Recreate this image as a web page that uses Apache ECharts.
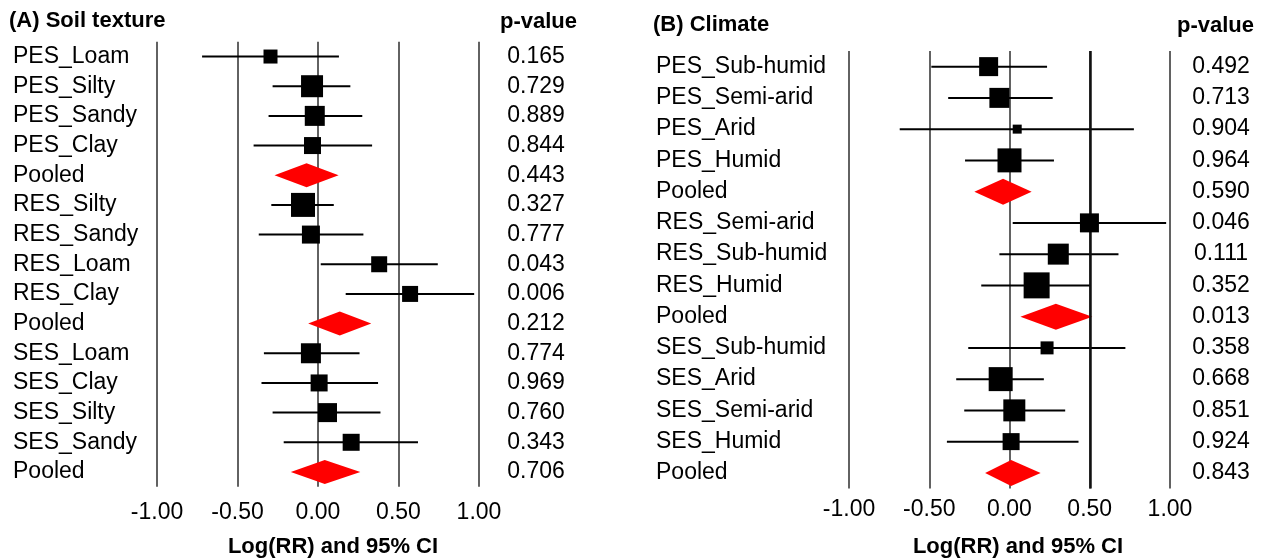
<!DOCTYPE html>
<html>
<head>
<meta charset="utf-8">
<script src="https://cdn.jsdelivr.net/npm/echarts@6/dist/echarts.min.js"></script>
<style>
html,body{margin:0;padding:0;background:#fff;}
#chart{width:1265px;height:558px;}
</style>
</head>
<body>
<div id="chart"></div>
<script>
// ---------- Panel A: Soil texture ----------
const categoriesA = ['PES_Loam','PES_Silty','PES_Sandy','PES_Clay','Pooled','RES_Silty','RES_Sandy','RES_Loam','RES_Clay','Pooled','SES_Loam','SES_Clay','SES_Silty','SES_Sandy','Pooled'];
const estimateA = [-0.295,-0.037,-0.020,-0.034,-0.071,-0.093,-0.044,0.380,0.572,0.135,-0.044,0.007,0.059,0.206,0.042];
const lowerA    = [-0.720,-0.282,-0.307,-0.400,-0.270,-0.290,-0.368,0.017,0.172,-0.061,-0.336,-0.351,-0.282,-0.213,-0.169];
const upperA    = [0.130,0.201,0.275,0.336,0.128,0.098,0.282,0.744,0.970,0.331,0.258,0.373,0.388,0.621,0.263];
const weightA   = [14,22,20,17,null,24,18,16,16,null,20,17,19,17,null];
const pValuesA  = ['0.165','0.729','0.889','0.844','0.443','0.327','0.777','0.043','0.006','0.212','0.774','0.969','0.760','0.343','0.706'];

// ---------- Panel B: Climate ----------
const categoriesB = ['PES_Sub-humid','PES_Semi-arid','PES_Arid','PES_Humid','Pooled','RES_Semi-arid','RES_Sub-humid','RES_Humid','Pooled','SES_Sub-humid','SES_Arid','SES_Semi-arid','SES_Humid','Pooled'];
const estimateB = [-0.130,-0.063,0.048,0.000,-0.040,0.498,0.304,0.169,0.289,0.234,-0.055,0.030,0.010,0.010];
const lowerB    = [-0.487,-0.382,-0.684,-0.277,-0.219,0.020,-0.063,-0.176,0.068,-0.257,-0.332,-0.282,-0.390,-0.152];
const upperB    = [0.234,0.269,0.775,0.277,0.138,0.976,0.679,0.503,0.516,0.722,0.214,0.347,0.430,0.194];
const weightB   = [19,20,9,24,null,19,21,26,null,13,24,22,17,null];
const pValuesB  = ['0.492','0.713','0.904','0.964','0.590','0.046','0.111','0.352','0.013','0.358','0.668','0.851','0.924','0.843'];

const xTicks = { min: -1, max: 1, interval: 0.5 };
const FONT = "'Liberation Sans', Arial, sans-serif";
const FS = 23;

function intervalSeries(idx, lo, hi, est, w, halfH) {
  const data = lo.map((l, i) => [l, hi[i], est[i], i, w[i] == null ? 1 : 0]);
  return {
    type: 'custom', xAxisIndex: idx, yAxisIndex: idx * 2, z: 3,
    encode: { x: [0, 1, 2], y: 3 },
    data: data,
    renderItem: function (params, api) {
      const i = api.value(3);
      const p1 = api.coord([api.value(0), i]);
      const p2 = api.coord([api.value(1), i]);
      const pe = api.coord([api.value(2), i]);
      if (api.value(4)) {
        return {
          type: 'polygon',
          shape: { points: [[p1[0], pe[1]], [pe[0], pe[1] - halfH], [p2[0], pe[1]], [pe[0], pe[1] + halfH]] },
          style: { fill: '#ff0000' }
        };
      }
      return {
        type: 'line',
        shape: { x1: p1[0], y1: p1[1], x2: p2[0], y2: p2[1] },
        style: { stroke: '#000', lineWidth: 2 }
      };
    }
  };
}

function squareSeries(idx, est, w) {
  const data = [];
  est.forEach((e, i) => { if (w[i] != null) data.push([e, i, w[i]]); });
  return {
    type: 'scatter', xAxisIndex: idx, yAxisIndex: idx * 2, z: 5,
    symbol: 'rect',
    symbolSize: d => d[2],
    itemStyle: { color: '#000', opacity: 1 },
    data: data
  };
}

function xAxisDef(idx, margin, nameGap, namePadLeft) {
  return {
    type: 'value', gridIndex: idx,
    min: xTicks.min, max: xTicks.max, interval: xTicks.interval,
    axisLine: { show: false }, axisTick: { show: false },
    splitLine: { show: true, lineStyle: { color: '#2e2e2e', width: 1.5 } },
    axisLabel: { formatter: v => v.toFixed(2), fontSize: FS, color: '#000', fontFamily: FONT, margin: margin },
    name: 'Log(RR) and 95% CI', nameLocation: 'middle', nameGap: nameGap,
    nameTextStyle: { fontSize: 22, fontWeight: 'bold', color: '#000', fontFamily: FONT, padding: [0, 0, 0, namePadLeft] }
  };
}

function yAxesDef(idx, cats, pvals, leftMargin, pMargin, labelPad, pPad) {
  return [
    {
      type: 'category', gridIndex: idx, inverse: true, data: cats,
      axisLine: { show: false }, axisTick: { show: false }, splitLine: { show: false },
      axisLabel: { interval: 0, hideOverlap: false, align: 'left', margin: leftMargin, fontSize: FS, color: '#000', fontFamily: FONT, padding: labelPad }
    },
    {
      type: 'category', gridIndex: idx, inverse: true, position: 'right', data: pvals,
      axisLine: { show: false }, axisTick: { show: false }, splitLine: { show: false },
      axisLabel: { interval: 0, hideOverlap: false, align: 'center', margin: pMargin, fontSize: FS, color: '#000', fontFamily: FONT, padding: pPad }
    }
  ];
}

const chart = echarts.init(document.getElementById('chart'), null, { renderer: 'canvas' });
const titleStyle = { fontSize: 22, fontWeight: 'bold', color: '#000', fontFamily: FONT };
chart.setOption({
  animation: false,
  backgroundColor: '#fff',
  title: [
    { text: '(A) Soil texture', left: 9, top: 10, padding: 0, textStyle: titleStyle },
    { text: 'p-value', left: 500, top: 11, padding: 0, textStyle: titleStyle },
    { text: '(B) Climate', left: 653, top: 14, padding: 0, textStyle: titleStyle },
    { text: 'p-value', left: 1177, top: 15, padding: 0, textStyle: titleStyle }
  ],
  grid: [
    { left: 157, right: 786, top: 41.7, bottom: 71.2, containLabel: false, outerBoundsMode: 'none' },
    { left: 849, right: 95, top: 51, bottom: 69.5, containLabel: false, outerBoundsMode: 'none' }
  ],
  xAxis: [
    xAxisDef(0, 14, 49, 30),
    xAxisDef(1, 10, 47.5, 17)
  ],
  yAxis: [].concat(
    yAxesDef(0, categoriesA, pValuesA, 144, 57, [0, 0, 0, 0], [4, 0, 0, 0]),
    yAxesDef(1, categoriesB, pValuesB, 193, 51, [0, 0, 6, 0], [0, 0, 0, 0])
  ),
  series: [
    {
      type: 'line', xAxisIndex: 1, yAxisIndex: 2, data: [], z: 2,
      markLine: {
        silent: true, symbol: 'none', label: { show: false }, animation: false,
        lineStyle: { color: '#111', width: 2.5, type: 'solid' },
        data: [{ xAxis: 0.5 }]
      }
    },
    intervalSeries(0, lowerA, upperA, estimateA, weightA, 12),
    squareSeries(0, estimateA, weightA),
    intervalSeries(1, lowerB, upperB, estimateB, weightB, 13),
    squareSeries(1, estimateB, weightB)
  ]
});
</script>
</body>
</html>
